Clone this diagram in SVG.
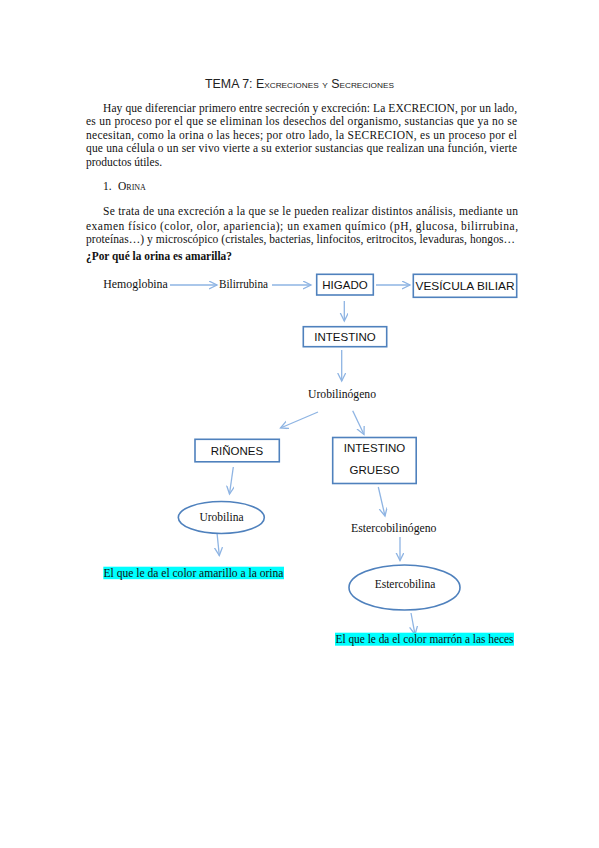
<svg xmlns="http://www.w3.org/2000/svg" width="599" height="848" viewBox="0 0 599 848">
<defs>
<style>
.p{font-family:"Liberation Serif",serif;font-size:11.5px;fill:#111}
.b{font-family:"Liberation Serif",serif;font-size:11.5px;font-weight:bold;fill:#111}
.box{fill:#fff;stroke:#4f81bd;stroke-width:1.6}
.ell{fill:#fff;stroke:#4f81bd;stroke-width:1.6}
.bt{font-family:"Liberation Sans",sans-serif;font-size:11.5px;fill:#111}
.ar{stroke:#8eb4e3;stroke-width:1.3;fill:none;marker-end:url(#arr)}
.hl{fill:#00ffff}
</style>
<marker id="arr" markerWidth="10" markerHeight="10" refX="8" refY="4" orient="auto" markerUnits="userSpaceOnUse">
<path d="M0,0 L8,4 L0,8" fill="none" stroke="#8eb4e3" stroke-width="1.3"/>
</marker>
</defs>
<rect width="599" height="848" fill="#fff"/>

<text x="205" y="88" textLength="189" lengthAdjust="spacingAndGlyphs" style="font-family:'Liberation Sans',sans-serif;font-size:12px;font-variant:small-caps;fill:#222">TEMA 7: Excreciones y Secreciones</text>

<g id="intro">
<text class="p" x="103" y="111.5" textLength="414" lengthAdjust="spacing">Hay que diferenciar primero entre secreción y excreción: La EXCRECION, por un lado,</text>
<text class="p" x="86" y="125" textLength="431" lengthAdjust="spacing">es un proceso por el que se eliminan los desechos del organismo, sustancias que ya no se</text>
<text class="p" x="86" y="138.5" textLength="431" lengthAdjust="spacing">necesitan, como la orina o las heces; por otro lado, la SECRECION, es un proceso por el</text>
<text class="p" x="86" y="152" textLength="431" lengthAdjust="spacing">que una célula o un ser vivo vierte a su exterior sustancias que realizan una función, vierte</text>
<text class="p" x="86" y="165.5">productos útiles.</text>
<text class="p" x="103" y="190">1.</text>
<text class="p" x="118" y="190" style="font-variant:small-caps">Orina</text>
<text class="p" x="103" y="215" textLength="415" lengthAdjust="spacing">Se trata de una excreción a la que se le pueden realizar distintos análisis, mediante un</text>
<text class="p" x="86" y="229.5" textLength="432" lengthAdjust="spacing">examen físico (color, olor, apariencia); un examen químico (pH, glucosa, bilirrubina,</text>
<text class="p" x="86" y="243" textLength="429" lengthAdjust="spacing">proteínas…) y microscópico (cristales, bacterias, linfocitos, eritrocitos, levaduras, hongos…</text>
<text class="b" x="86" y="260" textLength="146" lengthAdjust="spacingAndGlyphs">¿Por qué la orina es amarilla?</text>
</g>

<g id="connectors">
<line class="ar" x1="170" y1="285" x2="217" y2="285"/>
<line class="ar" x1="272" y1="285" x2="311" y2="285"/>
<line class="ar" x1="376" y1="285" x2="410" y2="285"/>
<line class="ar" x1="344.3" y1="301" x2="344.3" y2="321"/>
<line class="ar" x1="341.7" y1="350" x2="341.7" y2="381"/>
<line class="ar" x1="318" y1="412" x2="280.5" y2="428"/>
<line class="ar" x1="352.7" y1="410.7" x2="364" y2="434.5"/>
<line class="ar" x1="233.3" y1="467" x2="229.5" y2="494"/>
<line class="ar" x1="216" y1="523" x2="219.3" y2="555.5"/>
<line class="ar" x1="378.3" y1="487" x2="385" y2="516"/>
<line class="ar" x1="400" y1="537" x2="400" y2="560.5"/>
<line class="ar" x1="411" y1="613" x2="415" y2="634.5"/>
</g>

<g id="hemoglobina"><text class="p" x="103.3" y="288" textLength="64.5" lengthAdjust="spacingAndGlyphs">Hemoglobina</text></g>
<g id="bilirrubina"><text class="p" x="219" y="288" textLength="49" lengthAdjust="spacingAndGlyphs">Bilirrubina</text></g>
<g id="higado"><rect class="box" x="316.7" y="274.3" width="56.6" height="20.7"/><text class="bt" x="345" y="289" text-anchor="middle">HIGADO</text></g>
<g id="vesicula"><rect class="box" x="413.3" y="274.3" width="103.4" height="23"/><text class="bt" x="415.5" y="289.5" textLength="99" lengthAdjust="spacingAndGlyphs">VESÍCULA BILIAR</text></g>
<g id="intestino"><rect class="box" x="303.3" y="326.7" width="83.4" height="20"/><text class="bt" x="345" y="341" text-anchor="middle">INTESTINO</text></g>
<g id="urobilinogeno"><text class="p" x="308" y="398" textLength="68" lengthAdjust="spacingAndGlyphs">Urobilinógeno</text></g>
<g id="rinones"><rect class="box" x="195" y="439.3" width="84.3" height="22.5"/><text class="bt" x="237" y="455" text-anchor="middle">RIÑONES</text></g>
<g id="intestino-grueso"><rect class="box" x="332.7" y="437.5" width="83.5" height="46"/><text class="bt" x="374.5" y="452" text-anchor="middle">INTESTINO</text><text class="bt" x="374.5" y="473.5" text-anchor="middle">GRUESO</text></g>
<g id="urobilina"><ellipse class="ell" cx="221.3" cy="517.5" rx="43" ry="16"/><text class="p" x="221.5" y="520.5" text-anchor="middle">Urobilina</text></g>
<g id="nota-amarillo"><rect class="hl" x="103.3" y="566.7" width="180.7" height="12.5"/><text class="p" x="103.5" y="576.5" textLength="180" lengthAdjust="spacingAndGlyphs">El que le da el color amarillo a la orina</text></g>
<g id="estercobilinogeno"><text class="p" x="351" y="531.5" textLength="85.5" lengthAdjust="spacingAndGlyphs">Estercobilinógeno</text></g>
<g id="estercobilina"><ellipse class="ell" cx="404.5" cy="587.5" rx="55.5" ry="22.5"/><text class="p" x="405" y="587.5" text-anchor="middle">Estercobilina</text></g>
<g id="nota-marron"><rect class="hl" x="335" y="632.7" width="179" height="13"/><text class="p" x="335.5" y="643" textLength="178" lengthAdjust="spacingAndGlyphs">El que le da el color marrón a las heces</text></g>
</svg>
